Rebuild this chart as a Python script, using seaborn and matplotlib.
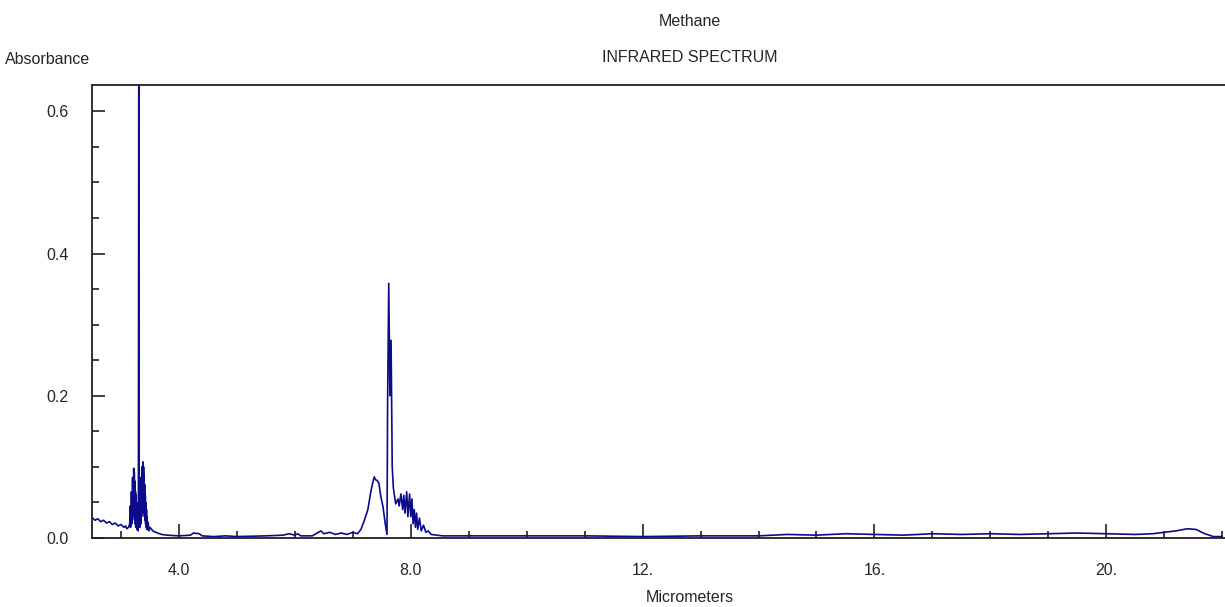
import numpy as np
import pandas as pd
import seaborn as sns
import matplotlib.pyplot as plt
from matplotlib.ticker import MultipleLocator, FixedLocator

# wavelength (micrometers) and absorbance
wavelength = [2.50, 2.55, 2.60, 2.65, 2.70, 2.75, 2.80, 2.85, 2.90, 2.95,
              3.00, 3.05, 3.08, 3.10, 3.13,
              3.15, 3.16, 3.165, 3.17, 3.175, 3.18, 3.185, 3.19, 3.195, 3.20,
              3.205, 3.21, 3.215, 3.22, 3.225, 3.23, 3.235, 3.24, 3.245, 3.25,
              3.255, 3.26, 3.265, 3.27, 3.275, 3.28, 3.285, 3.29, 3.295, 3.30,
              3.31, 3.315, 3.32, 3.325, 3.33, 3.335, 3.34, 3.345, 3.35, 3.355,
              3.36, 3.365, 3.37, 3.375, 3.38, 3.385, 3.39, 3.395, 3.40, 3.405,
              3.41, 3.415, 3.42, 3.425, 3.43, 3.435, 3.44, 3.445, 3.45, 3.46,
              3.47, 3.48, 3.50, 3.55, 3.60, 3.70, 3.80,
              4.00, 4.20, 4.25, 4.35, 4.40, 4.60, 4.80, 5.00, 5.50, 5.80,
              5.90, 6.00, 6.05, 6.10, 6.30, 6.45, 6.50, 6.60, 6.70, 6.80,
              6.90, 7.00, 7.08, 7.14, 7.20, 7.26, 7.31, 7.35, 7.37, 7.39,
              7.42, 7.45, 7.48, 7.52, 7.56, 7.59, 7.60, 7.62, 7.64, 7.66,
              7.68, 7.70, 7.74, 7.78, 7.80, 7.83, 7.86, 7.88, 7.90, 7.93,
              7.95, 7.98, 8.00, 8.02, 8.04, 8.06, 8.08, 8.10, 8.12, 8.15,
              8.18, 8.22, 8.26, 8.30, 8.35, 8.45, 8.55, 9.00, 10.0, 11.0,
              12.0, 13.0, 14.0, 14.5, 15.0, 15.5, 16.0, 16.5, 17.0, 17.5,
              18.0, 18.5, 19.0, 19.5, 20.0, 20.5, 20.8, 21.0, 21.2, 21.4,
              21.55, 21.7, 21.85, 22.0]
absorbance = [0.029, 0.025, 0.027, 0.023, 0.025, 0.021, 0.023, 0.019, 0.021, 0.017,
              0.019, 0.015, 0.017, 0.013, 0.015,
              0.020, 0.045, 0.015, 0.030, 0.018, 0.065, 0.020, 0.050, 0.025, 0.085,
              0.030, 0.070, 0.035, 0.098, 0.040, 0.092, 0.025, 0.080, 0.020, 0.065,
              0.015, 0.060, 0.020, 0.050, 0.012, 0.040, 0.015, 0.030, 0.010, 0.015,
              0.900, 0.020, 0.040, 0.015, 0.060, 0.025, 0.085, 0.020, 0.070, 0.030,
              0.100, 0.035, 0.090, 0.040, 0.107, 0.045, 0.100, 0.035, 0.090, 0.030,
              0.075, 0.025, 0.060, 0.020, 0.050, 0.015, 0.040, 0.012, 0.030, 0.012,
              0.022, 0.010, 0.015, 0.010, 0.008, 0.005, 0.004,
              0.003, 0.004, 0.007, 0.006, 0.003, 0.002, 0.003, 0.002, 0.003, 0.004,
              0.006, 0.004, 0.006, 0.003, 0.003, 0.010, 0.006, 0.008, 0.005, 0.007,
              0.005, 0.008, 0.006, 0.012, 0.025, 0.040, 0.065, 0.080, 0.086, 0.082,
              0.081, 0.077, 0.060, 0.044, 0.020, 0.005, 0.190, 0.358, 0.200, 0.278,
              0.100, 0.070, 0.048, 0.055, 0.045, 0.062, 0.040, 0.060, 0.035, 0.065,
              0.030, 0.062, 0.030, 0.055, 0.020, 0.040, 0.015, 0.035, 0.012, 0.028,
              0.010, 0.018, 0.008, 0.010, 0.005, 0.004, 0.003, 0.003, 0.003, 0.003,
              0.002, 0.003, 0.003, 0.005, 0.004, 0.006, 0.005, 0.004, 0.006, 0.005,
              0.006, 0.005, 0.006, 0.007, 0.006, 0.005, 0.006, 0.008, 0.010, 0.013,
              0.012, 0.006, 0.002, 0.002]

xtick_values = [4, 8, 12, 16, 20]
xtick_labels = ["4.0", "8.0", "12.", "16.", "20."]
ytick_values = [0.0, 0.2, 0.4, 0.6]
ytick_labels = ["0.0", "0.2", "0.4", "0.6"]

df = pd.DataFrame({"wavelength": wavelength, "absorbance": absorbance})

sns.set_style("white")
plt.rcParams['font.family'] = ['Liberation Sans', 'DejaVu Sans']

fig = plt.figure(figsize=(12.25, 6.07), dpi=100)
ax = fig.add_axes([92 / 1225, 69 / 607, 1136 / 1225, 453 / 607])

sns.lineplot(data=df, x="wavelength", y="absorbance", estimator=None, sort=False,
             color="#0c0c8a", linewidth=1.2, ax=ax)

ax.set_xlim(2.5, 22.1)
ax.set_ylim(0, 0.637)

ax.xaxis.set_major_locator(FixedLocator(xtick_values))
ax.set_xticklabels(xtick_labels)
ax.xaxis.set_minor_locator(MultipleLocator(1))
ax.yaxis.set_major_locator(FixedLocator(ytick_values))
ax.set_yticklabels(ytick_labels)
ax.yaxis.set_minor_locator(MultipleLocator(0.05))

ax.tick_params(axis="x", which="major", direction="in", length=10, width=1.2,
               color="#202020", pad=18, labelsize=11.5, bottom=True)
ax.tick_params(axis="x", which="minor", direction="in", length=5, width=1.2,
               color="#202020", bottom=True)
ax.tick_params(axis="y", which="major", direction="in", length=9, width=1.2,
               color="#202020", pad=17, labelsize=11.5, left=True)
ax.tick_params(axis="y", which="minor", direction="in", length=5, width=1.2,
               color="#202020", left=True)

for side in ["left", "bottom", "top", "right"]:
    ax.spines[side].set_color("#202020")
    ax.spines[side].set_linewidth(1.3)

ax.set_xlabel("")
ax.set_ylabel("")

fig.text(690 / 1225, 1 - 22 / 607, "Methane", ha="center", va="center", fontsize=11.5)
fig.text(690 / 1225, 1 - 58 / 607, "INFRARED SPECTRUM", ha="center", va="center", fontsize=11.5)
fig.text(5 / 1225, 1 - 60 / 607, "Absorbance", ha="left", va="center", fontsize=11.5)
fig.text(690 / 1225, 1 - 598 / 607, "Micrometers", ha="center", va="center", fontsize=11.5)

fig.savefig("out.png", dpi=100)
